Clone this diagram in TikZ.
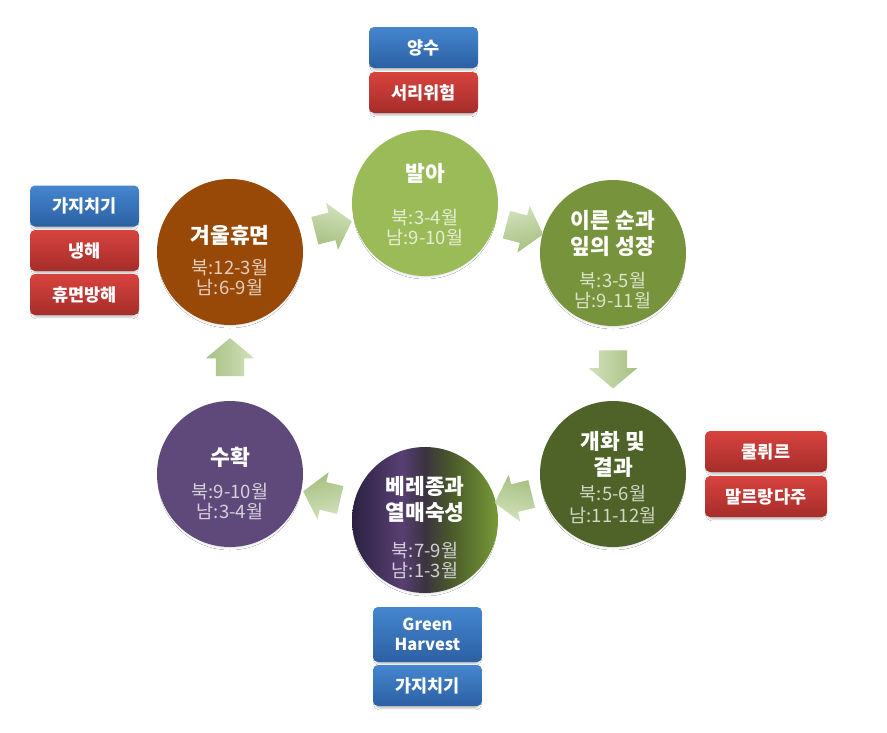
\documentclass[tikz,border=0pt]{standalone}
\usepackage{fontspec}
\setmainfont{Noto Sans CJK KR}
\usetikzlibrary{shapes.arrows,shadows.blur,calc}

\definecolor{cWinter}{HTML}{984807}
\definecolor{cBud}{HTML}{9BBB59}
\definecolor{cShoot}{HTML}{77933C}
\definecolor{cBloom}{HTML}{4F6228}
\definecolor{cHarv}{HTML}{5F497A}
\definecolor{vA}{HTML}{2B2141}
\definecolor{vB}{HTML}{583F72}
\definecolor{vC}{HTML}{3B3440}
\definecolor{vD}{HTML}{4A5A2A}
\definecolor{vE}{HTML}{789A38}
\definecolor{arrLight}{HTML}{D2E1BC}
\definecolor{arrDark}{HTML}{A6BF80}
\definecolor{tagBlueA}{HTML}{4586CF}
\definecolor{tagBlueB}{HTML}{2C60A3}
\definecolor{tagRedA}{HTML}{D8433E}
\definecolor{tagRedB}{HTML}{A52D2A}

\pgfdeclarehorizontalshading{veraison}{100bp}{color(0bp)=(vA); color(25bp)=(vA); color(42bp)=(vB); color(50bp)=(vC); color(59bp)=(vD); color(75bp)=(vE); color(100bp)=(vE)}

\tikzset{
  stage/.style={circle, minimum size=146pt, inner sep=0pt, draw=none,
    blur shadow={shadow xshift=0pt, shadow yshift=-4pt, shadow scale=0.95, shadow blur radius=3pt, shadow opacity=20}},
  ttl/.style={font=\fontsize{21.5}{26}\selectfont\bfseries, text=white, align=center, inner sep=0pt},
  dts/.style={font=\fontsize{18.5}{20}\selectfont, text=#1, align=center, inner sep=0pt},
  blockarrow/.style={single arrow, draw=none, minimum height=38pt,
    single arrow head extend=10pt, single arrow tip angle=100,
    inner xsep=0pt, inner ysep=14pt, text width=0pt,
    top color=arrLight, bottom color=arrDark},
  tag/.style={rounded corners=5pt, minimum width=109pt, minimum height=41pt, inner sep=2pt,
    text=white, font=\fontsize{17.5}{20}\selectfont\bfseries, align=center,
    blur shadow={shadow xshift=0pt, shadow yshift=-3pt, shadow scale=0.96, shadow blur radius=2pt, shadow opacity=26}},
  bluetag/.style={tag, top color=tagBlueA, bottom color=tagBlueB},
  redtag/.style={tag, top color=tagRedA, bottom color=tagRedB},
}

\begin{document}
\begin{tikzpicture}[x=1pt, y=-1pt]
\useasboundingbox[fill=white] (0,0) rectangle (887,732);

% stage circles
\node[stage, fill=cWinter] (winter) at (230,252) {};
\node[stage, fill=cBud]    (bud)    at (425,203) {};
\node[stage, fill=cShoot]  (shoot)  at (613,253) {};
\node[stage, fill=cBloom]  (bloom)  at (613,474) {};
\node[stage, shading=veraison] (ver) at (425,520) {};
\node[stage, fill=cHarv]   (harv)   at (230,474) {};

% texts
\node[ttl] (winterT) at ($(winter)+(0,-17)$) {겨울휴면};
\node[dts=white!74!cWinter] (winterD) at ($(winter)+(0,25)$) {북:12-3월\\남:6-9월};

\node[ttl] (budT) at ($(bud)+(0,-30)$) {발아};
\node[dts=white!74!cBud] (budD) at ($(bud)+(0,24)$) {북:3-4월\\남:9-10월};

\node[ttl] (shootT) at ($(shoot)+(0,-20)$) {이른 순과\\잎의 성장};
\node[dts=white!74!cShoot] (shootD) at ($(shoot)+(0,37)$) {북:3-5월\\남:9-11월};

\node[ttl] (bloomT) at ($(bloom)+(0,-20)$) {개화 및\\결과};
\node[dts=white!74!cBloom, font=\fontsize{18.5}{22}\selectfont] (bloomD) at ($(bloom)+(0,30)$) {북:5-6월\\남:11-12월};

\node[ttl] (verT) at ($(ver)+(0,-21)$) {베레종과\\열매숙성};
\node[dts=white!74!vB] (verD) at ($(ver)+(0,40)$) {북:7-9월\\남:1-3월};

\node[ttl] (harvT) at ($(harv)+(0,-17)$) {수확};
\node[dts=white!74!cHarv] (harvD) at ($(harv)+(0,27)$) {북:9-10월\\남:3-4월};

% block arrows between stages
\path (winter) -- node[blockarrow, sloped, allow upside down, shading angle=-14] (ar1) {} (bud);
\path (bud) -- node[blockarrow, sloped, allow upside down, shading angle=15] (ar2) {} (shoot);
\path (shoot) -- node[blockarrow, sloped, allow upside down, shading angle=90] (ar3) {} (bloom);
\path (bloom) -- node[blockarrow, sloped, allow upside down, shading angle=-194] (ar4) {} (ver);
\path (ver) -- node[blockarrow, sloped, allow upside down, shading angle=-167] (ar5) {} (harv);
\path (harv) -- node[blockarrow, sloped, allow upside down, shading angle=-90] (ar6) {} (winter);

% tags
\node[bluetag] (t1) at (423.5,47.5) {양수};
\node[redtag]  (t2) at (423.5,92.5) {서리위험};

\node[bluetag] (t3) at (84.5,206) {가지치기};
\node[redtag]  (t4) at (84.5,250.5) {냉해};
\node[redtag]  (t5) at (84.5,294.5) {휴면방해};

\node[redtag, minimum width=122pt] (t6) at (766,451.5) {쿨뤼르};
\node[redtag, minimum width=122pt] (t7) at (766,496.5) {말르랑다주};

\node[bluetag, minimum height=55pt, font=\fontsize{16.5}{20}\selectfont\bfseries] (t8) at (427.5,634.5) {Green\\Harvest};
\node[bluetag] (t9) at (427.5,685.5) {가지치기};
\end{tikzpicture}
\end{document}
